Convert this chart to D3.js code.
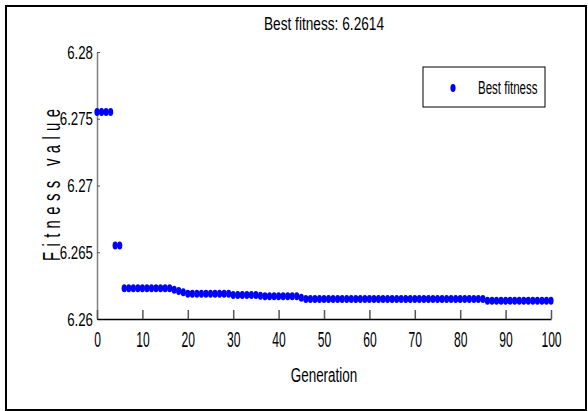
<!DOCTYPE html>
<html lang="en">
<head>
  <style>
    body { margin: 0; background: #fff; }
    text { font-family: "Liberation Sans", Arial, sans-serif; fill: #000; }
  </style>
  <script src="https://d3js.org/d3.v7.min.js"></script>
</head>
<body>
  <script>
    // best fitness per generation (generation = index, 0..100)
    const fitness = [
      6.2755, 6.2755, 6.2755, 6.2755,
      6.2655, 6.2655,
      6.2623, 6.2623, 6.2623, 6.2623, 6.2623, 6.2623, 6.2623, 6.2623, 6.2623, 6.2623, 6.2623,
      6.2622, 6.2621, 6.2620,
      6.2619, 6.2619, 6.2619, 6.2619, 6.2619, 6.2619, 6.2619, 6.2619, 6.2619, 6.2619,
      6.2618, 6.2618, 6.2618, 6.2618, 6.2618, 6.2618,
      6.26175,
      6.2617, 6.2617, 6.2617, 6.2617, 6.2617, 6.2617, 6.2617, 6.2617,
      6.2616,
      6.2615, 6.2615, 6.2615, 6.2615, 6.2615, 6.2615, 6.2615, 6.2615, 6.2615, 6.2615,
      6.2615, 6.2615, 6.2615, 6.2615, 6.2615, 6.2615, 6.2615, 6.2615, 6.2615, 6.2615,
      6.2615, 6.2615, 6.2615, 6.2615, 6.2615, 6.2615, 6.2615, 6.2615, 6.2615, 6.2615,
      6.2615, 6.2615, 6.2615, 6.2615, 6.2615, 6.2615, 6.2615, 6.2615, 6.2615, 6.2615,
      6.26137, 6.26137, 6.26137, 6.26137, 6.26137, 6.26137, 6.26137, 6.26137,
      6.26137, 6.26137, 6.26137, 6.26137, 6.26137, 6.26137, 6.26137
    ];
    const xTicks = [0, 10, 20, 30, 40, 50, 60, 70, 80, 90, 100];
    const yTicks = [6.26, 6.265, 6.27, 6.275, 6.28];
    const yTickLabels = ["6.26", "6.265", "6.27", "6.275", "6.28"];
    const titleText = "Best fitness: 6.2614";
    const legendText = "Best fitness";

    const W = 588, H = 411;
    const plot = { left: 97, right: 551, top: 52, bottom: 319 };

    const svg = d3.select("body").append("svg")
      .attr("width", W)
      .attr("height", H);

    // outer frame
    svg.append("rect")
      .attr("x", 6).attr("y", 6)
      .attr("width", 580).attr("height", 404)
      .attr("fill", "none")
      .attr("stroke", "#000")
      .attr("stroke-width", 2);

    const x = d3.scaleLinear().domain([0, 100]).range([plot.left, plot.right]);
    const y = d3.scaleLinear().domain([6.26, 6.28]).range([plot.bottom, plot.top]);

    // squeeze text horizontally, keeping its anchor x in place
    function squeeze(sel, s) {
      sel.each(function () {
        const t = d3.select(this);
        const x0 = +t.attr("x") || 0;
        t.attr("x", x0 / s).attr("transform", `scale(${s},1)`);
      });
    }

    // y axis
    const gy = svg.append("g")
      .attr("transform", `translate(${plot.left},0)`)
      .call(d3.axisLeft(y)
        .tickValues(yTicks)
        .tickFormat((d, i) => yTickLabels[i])
        .tickSizeInner(-3)
        .tickSizeOuter(0)
        .tickPadding(4));
    gy.select(".domain").attr("stroke", "#808080").attr("stroke-width", 1.5);
    gy.selectAll(".tick line").attr("stroke", "#555");
    gy.selectAll(".tick text")
      .attr("font-size", 19)
      .attr("fill", "#000")
      .call(squeeze, 0.7);

    // x axis
    const gx = svg.append("g")
      .attr("transform", `translate(0,${plot.bottom})`)
      .call(d3.axisBottom(x)
        .tickValues(xTicks)
        .tickSizeInner(-9)
        .tickSizeOuter(0)
        .tickPadding(12));
    gx.select(".domain").attr("stroke", "#000").attr("stroke-width", 1.5);
    gx.selectAll(".tick line").attr("stroke", "#555").attr("stroke-width", 1.5);
    gx.selectAll(".tick text")
      .attr("font-size", 22)
      .attr("fill", "#000")
      .call(squeeze, 0.55);

    // points
    svg.append("g")
      .selectAll("ellipse")
      .data(fitness)
      .join("ellipse")
      .attr("cx", (d, i) => x(i))
      .attr("cy", d => y(d))
      .attr("rx", 2.6)
      .attr("ry", 4)
      .attr("fill", "#0000ff");

    // title
    svg.append("text")
      .attr("x", (plot.left + plot.right) / 2)
      .attr("y", 30)
      .attr("text-anchor", "middle")
      .attr("font-size", 19)
      .text(titleText)
      .call(squeeze, 0.72);

    // x label
    svg.append("text")
      .attr("x", (plot.left + plot.right) / 2)
      .attr("y", 382)
      .attr("text-anchor", "middle")
      .attr("font-size", 21)
      .text("Generation")
      .call(squeeze, 0.64);

    // y label: letters narrow along the text, spaced out
    const yLabScale = 0.62;
    svg.append("text")
      .attr("transform", `translate(60,185) rotate(-90) scale(${yLabScale},1)`)
      .attr("text-anchor", "middle")
      .attr("font-size", 24)
      .attr("textLength", 152 / yLabScale)
      .attr("lengthAdjust", "spacing")
      .text("Fitness value");

    // legend
    const lg = svg.append("g");
    lg.append("rect")
      .attr("x", 423).attr("y", 67)
      .attr("width", 122).attr("height", 40)
      .attr("fill", "#fff")
      .attr("stroke", "#000")
      .attr("stroke-width", 1);
    lg.append("ellipse")
      .attr("cx", 453).attr("cy", 88)
      .attr("rx", 2.6).attr("ry", 4)
      .attr("fill", "#0000ff");
    lg.append("text")
      .attr("x", 478)
      .attr("y", 94)
      .attr("font-size", 18)
      .text(legendText)
      .call(squeeze, 0.64);
  </script>
</body>
</html>
